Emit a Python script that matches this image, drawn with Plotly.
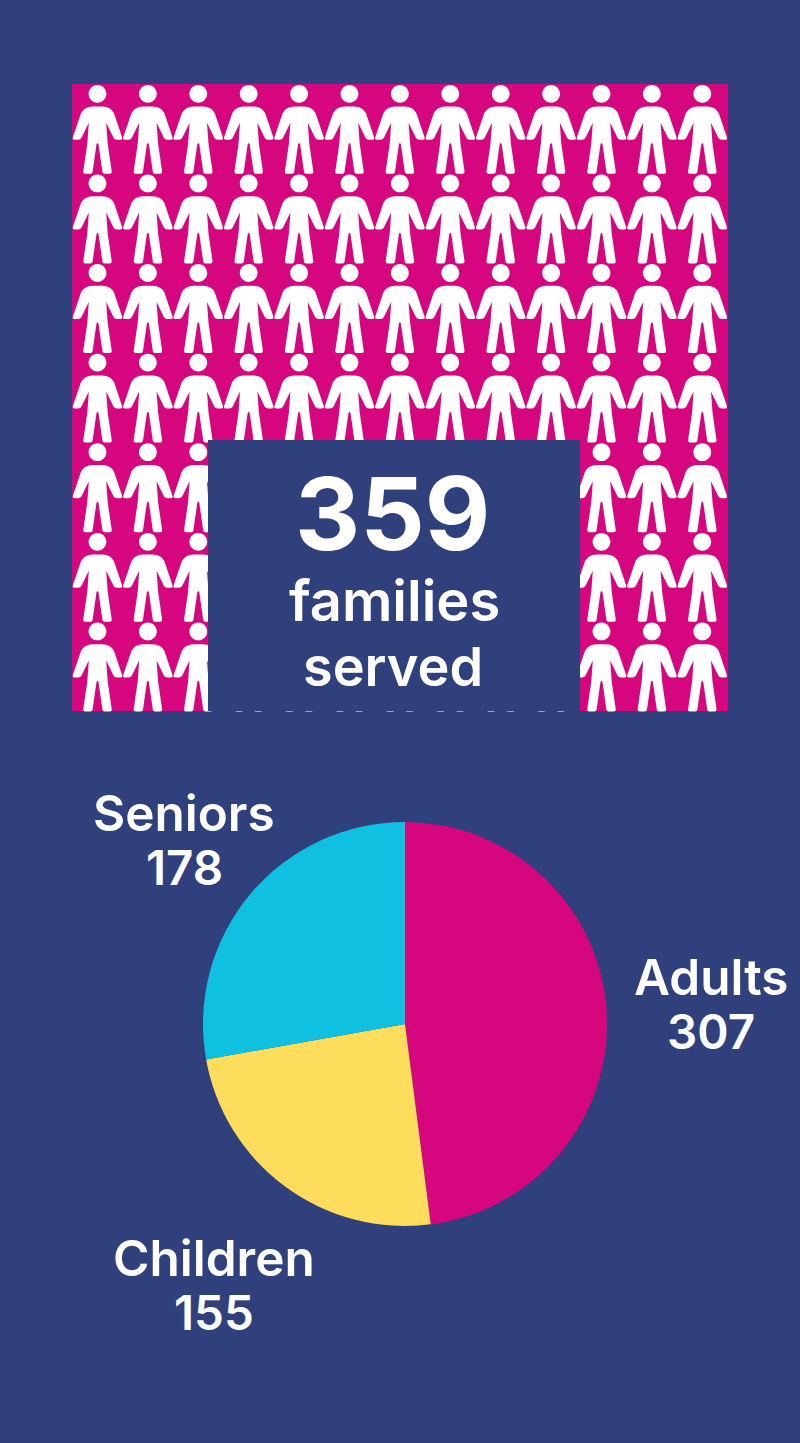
import plotly.graph_objects as go

# Data
categories = ["Adults", "Children", "Seniors"]
values = [307, 155, 178]
pie_colors = ["#D6067F", "#FFDD5C", "#0FC0E0"]
headline_value = "359"
headline_lines = ["families", "served"]
people_columns = 13
people_rows = 7

NAVY = "#30407C"
PINK = "#D6067F"
FONT = "Inter"

# Pixel-space layout of the pictogram
W, H = 800, 1443
x0, y0 = 97.5, 93.8
dx, dy = 50.4, 89.6


def person_path(cx, cy):
    def p(x, y):
        return f"{cx + x:.2f},{cy + y:.2f}"
    r, k = 8.9, 4.9
    head = (
        f"M{p(-r, 0)} C{p(-r, -k)} {p(-k, -r)} {p(0, -r)} C{p(k, -r)} {p(r, -k)} {p(r, 0)} "
        f"C{p(r, k)} {p(k, r)} {p(0, r)} C{p(-k, r)} {p(-r, k)} {p(-r, 0)} Z"
    )
    right = [
        ("L", (5, 12.8)), ("Q", (13, 12.8), (16.5, 19.5)), ("L", (24.6, 43.5)), ("Q", (25.3, 46), (23, 46)),
        ("L", (19.5, 46)), ("Q", (17, 46), (16, 44)), ("L", (8.7, 29)), ("L", (10.2, 50)),
        ("L", (14.2, 77.5)), ("Q", (14.5, 80), (12.3, 80)), ("L", (7, 80)), ("Q", (5.2, 80), (4.9, 78)),
        ("L", (1, 50.5)), ("Q", (0, 49), (0, 49)),
    ]
    body = "M" + p(0, 12.8)
    for seg in right:
        body += " " + seg[0] + " ".join(p(*q) for q in seg[1:])
    pts = [(0, 12.8)]
    for seg in right:
        pts.append(seg[-1])
    for i in range(len(right) - 1, -1, -1):
        seg = right[i]
        prev = pts[i]
        if seg[0] == "L":
            body += " L" + p(-prev[0], prev[1])
        else:
            c = seg[1]
            body += " Q" + p(-c[0], c[1]) + " " + p(-prev[0], prev[1])
    return head + " " + body + " Z"


shapes = [dict(type="rect", xref="x", yref="y", x0=72, x1=728, y0=84, y1=711,
               fillcolor=PINK, line_width=0, layer="below")]
for row in range(people_rows):
    for col in range(people_columns):
        shapes.append(dict(type="path", xref="x", yref="y",
                           path=person_path(x0 + col * dx, y0 + row * dy),
                           fillcolor="white", line_width=0, layer="above"))
shapes.append(dict(type="rect", xref="x", yref="y", x0=208, x1=580, y0=440, y1=711,
                   fillcolor=NAVY, line_width=0, layer="above"))


def text(x, y, s, size, weight=600):
    return dict(x=x / W, y=1 - y / H, xref="paper", yref="paper", text=s, showarrow=False,
                xanchor="center", yanchor="middle", align="center",
                font=dict(family=FONT, size=size, color="white", weight=weight))


label_pos = {"Adults": (711, 1004), "Children": (214, 1285), "Seniors": (184, 840)}
annotations = [
    text(392, 513, headline_value, 101, 700),
    text(394, 601, headline_lines[0], 56),
    text(393, 666, headline_lines[1], 54),
]
for c, v in zip(categories, values):
    lx, ly = label_pos[c]
    annotations.append(text(lx, ly - 27, c, 49.5))
    annotations.append(text(lx, ly + 27, str(v), 47.5))

fig = go.Figure()
fig.add_trace(go.Pie(
    labels=categories, values=values, sort=False, direction="clockwise", rotation=0,
    marker=dict(colors=pie_colors, line=dict(width=0)),
    textinfo="none", hoverinfo="label+value", showlegend=False,
    domain=dict(x=[203 / W, 607 / W], y=[1 - 1226 / H, 1 - 822 / H]),
))
fig.update_layout(
    width=W, height=H, margin=dict(l=0, r=0, t=0, b=0),
    paper_bgcolor=NAVY, plot_bgcolor=NAVY, showlegend=False,
    xaxis=dict(range=[0, W], visible=False, fixedrange=True),
    yaxis=dict(range=[H, 0], visible=False, fixedrange=True),
    shapes=shapes, annotations=annotations,
)
fig.write_html("out.html", config={"displayModeBar": False},
               post_script="document.body.style.margin='0';document.documentElement.style.overflow='hidden';document.body.style.background='" + NAVY + "';")
